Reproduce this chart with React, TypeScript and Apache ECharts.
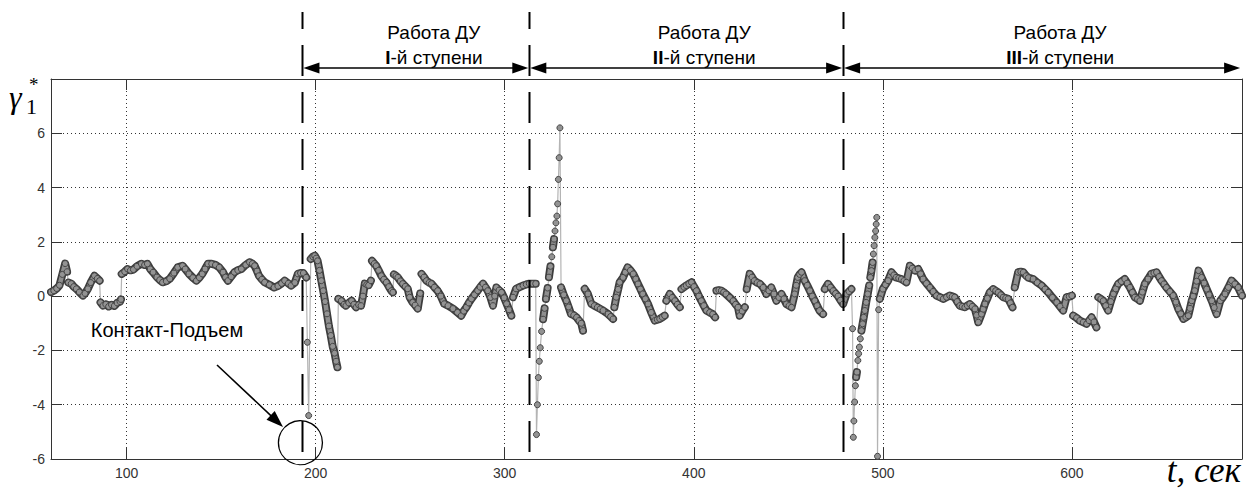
import React, { useEffect, useRef } from "react";
import * as echarts from "echarts";

const xTickValues = [100, 200, 300, 400, 500, 600];
const xMin = 60;
const xMax = 690;
const yMin = -6;
const yMax = 8;
const yStep = 2;

const stageBounds = [193, 313, 479, 689];
const stageNumerals = ["I", "II", "III"];
const stageTitle = "Работа ДУ";
const stageSuffix = "-й ступени";
const contactLabel = "Контакт-Подъем";
const xAxisName = "t, сек";

// phase before engine operation
const phase0: [number, number][] = [
  [60,0.15],[61.5,0.2],[63,0.28],[64.5,0.4],[66,0.8],[67.5,1.2],[68.5,0.9],[69.2,0.5],[70.7,0.46],[72,0.35],
  [73.4,0.27],[75,0.15],[76.9,0.02],[78,0.1],[79.5,0.27],[81,0.5],[83,0.75],[84.5,0.65],[85.7,0.57],[86.2,-0.23],
  [87.5,-0.35],[89,-0.3],[90.5,-0.38],[92,-0.32],[93.5,-0.36],[95,-0.25],[96.5,-0.2],[97,-0.12],[97.4,0.82],[99,0.9],
  [100.5,1.0],[102,0.95],[103.6,0.98],[105.5,1.1],[107.8,1.19],[109.5,1.15],[111,1.19],[112.5,1.0],[114,0.88],[116,0.7],
  [117.5,0.6],[119,0.51],[121,0.55],[122.8,0.64],[125,0.85],[127,1.06],[129.6,1.12],[131,1.0],[133,0.82],[135,0.68],
  [136.9,0.57],[138.5,0.68],[140,0.82],[141.5,1.0],[143,1.19],[145,1.19],[147,1.15],[149,1.06],[151,0.88],[152.3,0.7],
  [153.6,0.57],[155.3,0.72],[157,0.88],[158.8,0.95],[160.7,1.0],[163,1.15],[165,1.25],[166.5,1.2],[167.7,1.12],[169,0.92],
  [170,0.75],[171.5,0.62],[173,0.51],[175.5,0.42],[178,0.32],[180,0.37],[182,0.47],[183.6,0.57],[185.5,0.47],[187,0.39],
  [189,0.5],[190.6,0.82],[192,0.85],[193.5,0.85],[195,0.69],[195.6,-1.7],[196.3,-4.4]
];

// stage I
const phase1: [number, number][] = [
  [197.4,1.37],[198.5,1.45],[199.5,1.49],[200.3,1.4],[201,1.3],[202,0.95],[203,0.57],[204,0.2],[205,-0.2],[206,-0.65],
  [207,-1.1],[208,-1.45],[209,-1.85],[210,-2.1],[210.8,-2.4],[211.5,-2.62],[212,-0.1],[213.6,-0.17],[215,-0.3],[216,-0.35],
  [217.5,-0.25],[219,-0.17],[220.2,-0.3],[221.4,-0.41],[222.7,-0.32],[224,-0.35],[225,0.0],[226,0.46],[227,0.42],[228,0.4],
  [229.2,0.57],[229.8,1.3],[231,1.2],[232,1.12],[233.3,0.95],[234.7,0.75],[236,0.62],[237.4,0.51],[238.7,0.35],[240,0.2],
  [240.8,0.14],[241.4,0.8],[242.5,0.75],[243.5,0.69],[244.8,0.56],[246,0.46],[247.4,0.36],[248.7,0.27],[249.7,-0.04],[251.3,-0.23],
  [252.6,-0.33],[254,-0.46],[255.3,0.1],[256,0.82],[257.3,0.7],[258.6,0.57],[260,0.5],[261.2,0.46],[262.8,0.33],[264.5,0.2],
  [266.2,0.0],[268,-0.28],[270,-0.35],[272.6,-0.46],[275,-0.6],[277,-0.72],[278.3,-0.55],[279.7,-0.41],[281,-0.25],[282.4,-0.1],
  [284,0.05],[285.7,0.2],[287,0.33],[288.5,0.46],[289.8,0.33],[291,0.2],[292.5,-0.05],[293.8,-0.35],[294.7,0.0],[295.6,0.32],
  [297,0.22],[298.3,0.14],[299.7,-0.06],[301,-0.28],[302.3,-0.5],[303.5,-0.72],[304.4,-0.04],[306,0.27],[307.8,0.33],[309.7,0.39],
  [311.4,0.43],[313,0.46],[314.8,0.46],[316.4,0.46]
];

// stage II
const phase2: [number, number][] = [
  [316.8,-5.1],[317.3,-4.0],[317.8,-3.0],[318.3,-2.4],[318.8,-1.9],[319.5,-1.3],[320.3,-0.85],[321.1,-0.45],[321.8,-0.1],[322.7,0.3],
  [323.4,0.7],[324.2,1.1],[324.9,1.45],[325.5,1.8],[326.1,2.1],[326.6,2.4],[327.1,2.7],[327.6,2.95],[328,3.4],[328.4,4.3],
  [328.8,5.1],[329.2,6.2],[329.8,0.32],[331.2,0.05],[332.6,-0.17],[333.8,-0.4],[335,-0.65],[336.5,-0.7],[338,-0.78],[339.3,-0.9],
  [340.5,-1.0],[341.4,-1.27],[342.3,0.27],[344,0.08],[345.8,-0.28],[347.4,-0.35],[349,-0.41],[350.5,-0.47],[352,-0.53],[354.7,-0.66],
  [356,-0.75],[357.3,-0.84],[358,-0.41],[359,-0.04],[360,0.25],[360.8,0.51],[362.6,0.69],[363.8,0.88],[365,1.06],[366.5,0.95],
  [368,0.82],[369.3,0.63],[370.5,0.45],[371.8,0.26],[373,0.08],[374.4,-0.1],[375.8,-0.29],[377.5,-0.6],[379.4,-0.9],[380.7,-0.87],
  [382,-0.84],[383.3,-0.78],[384.6,-0.72],[385.5,-0.17],[387.3,0.08],[388.6,-0.05],[390,-0.17],[391.3,-0.3],[392.6,-0.41],[393.5,0.26],
  [394.8,0.33],[396,0.39],[397.4,0.45],[398.8,0.51],[400.1,0.35],[401.4,0.2],[402.7,0.0],[404,-0.17],[405.3,-0.35],[406.7,-0.53],
  [408.4,-0.6],[410,-0.66],[411.3,-0.78],[412,0.2],[413.3,0.22],[414.6,0.2],[415.8,0.15],[417,0.08],[419,-0.05],[420.8,-0.17],
  [422.1,-0.3],[423.4,-0.41],[424.3,-0.72],[425.6,-0.55],[427,-0.41],[428,0.26],[429.6,0.82],[430.8,0.7],[432,0.57],[433.5,0.5],
  [435,0.45],[436.7,0.32],[438.4,0.08],[439.7,0.2],[441,0.32],[442.4,0.08],[443.7,-0.17],[445,-0.05],[446.4,0.08],[447.7,-0.1],
  [449,-0.29],[450.4,-0.35],[451.7,-0.41],[453.4,0.08],[454.2,0.4],[455,0.69],[456,0.8],[457,0.88],[458.7,0.57],[460,0.4],
  [461.4,0.2],[462.7,0.0],[464,-0.17],[465.2,-0.35],[466.5,-0.53],[468.4,-0.66],[469.3,0.26],[471,0.45],[472.3,0.33],[473.7,0.2],
  [475,0.1],[476.3,0.0],[477.6,-0.15],[479,-0.29],[480.8,0.08],[482.1,0.17],[483.4,0.26],[484,-1.2]
];

// stage III
const phase3: [number, number][] = [
  [484.4,-5.2],[484.7,-4.6],[485.1,-3.9],[485.5,-3.3],[485.9,-2.98],[486.3,-2.8],[486.8,-2.37],[487.2,-2.12],[487.6,-1.88],[488.1,-1.57],
  [488.7,-1.27],[489.3,-1.02],[489.9,-0.78],[490.5,-0.53],[491.2,-0.23],[492,0.08],[492.8,0.39],[493.4,0.69],[494,0.94],[494.6,1.24],
  [495,1.55],[495.4,1.86],[495.8,2.16],[496.2,2.4],[496.5,2.65],[496.8,2.9],[497.2,-5.9],[497.8,-0.5],[498.4,-0.1],[500,0.26],
  [501.4,0.42],[502.8,0.57],[504.6,0.88],[505.8,0.78],[507,0.69],[508.4,0.66],[509.8,0.63],[511.2,0.57],[512.5,0.51],[514.3,1.12],
  [515.6,1.03],[517,0.94],[518.7,1.0],[520,0.82],[521.3,0.63],[523.1,0.47],[524.9,0.32],[526.6,0.17],[528.4,0.02],[530.2,-0.04],
  [532,-0.1],[533.7,-0.04],[535.4,0.02],[536.7,-0.01],[538,-0.04],[539.3,-0.2],[540.7,-0.35],[542,-0.38],[543.4,-0.41],[544.7,-0.35],
  [546,-0.29],[547.3,-0.38],[548.7,-0.47],[549.6,-0.7],[550.5,-0.96],[552.2,-0.66],[553.1,-0.48],[554,-0.29],[555.3,-0.08],[556.6,0.14],
  [558.4,0.26],[559.7,0.2],[561,0.14],[562.4,0.05],[563.7,-0.04],[565,-0.07],[566.3,-0.1],[567.5,-0.25],[568.6,-0.41],[569.8,0.32],
  [571.6,0.88],[573,0.9],[574.3,0.88],[575.8,0.75],[577,0.68],[579.5,0.63],[581.7,0.5],[584,0.39],[585.8,0.26],[587.5,0.14],
  [589.7,-0.05],[592,-0.23],[593.7,-0.38],[595.4,-0.53],[597.2,-0.04],[598.6,-0.02],[600,0.02],[600.7,-0.72],[602.5,-0.8],[604.2,-0.9],
  [606,-0.96],[607.8,-1.02],[609.1,-0.9],[610.4,-0.78],[611.7,-0.95],[613,-1.15],[614,-0.04],[615.3,-0.1],[616.6,-0.17],[617.9,-0.35],
  [619.2,-0.53],[620.6,-0.2],[622,0.08],[623.2,0.27],[624.5,0.45],[626.2,0.54],[628,0.63],[629.3,0.48],[630.7,0.32],[632,0.14],
  [633.3,-0.04],[634.7,-0.1],[636,-0.17],[637.3,0.15],[638.6,0.45],[640.3,0.63],[642,0.82],[643.4,0.85],[644.8,0.88],[646.1,0.72],
  [647.4,0.57],[648.7,0.45],[650,0.32],[651.8,0.17],[653.6,0.02],[655,-0.22],[656.3,-0.47],[657.6,-0.65],[659,-0.84],[660.3,-0.78],
  [661.6,-0.72],[662.5,-0.45],[663.4,-0.17],[664.2,0.0],[665,0.2],[666,0.55],[667,0.94],[668.6,0.69],[670,0.48],[671.3,0.26],
  [672.6,0.05],[674,-0.17],[675.3,-0.42],[676.6,-0.66],[678.5,-0.17],[679.8,-0.05],[681,0.08],[682.8,0.32],[684.5,0.57],[686.2,0.45],
  [688,0.32],[690,0.02]
];

const GRID = { left: 51, right: 11, top: 79, bottom: 33 };
const JUMP_SLOPE = 0.5; // per second: steeper steps are drawn as thin connectors only

export default function App() {
  const ref = useRef<HTMLDivElement>(null);

  useEffect(() => {
    if (!ref.current) return;
    const chart = echarts.init(ref.current, undefined, { renderer: "svg" });
    const data = [...phase0, ...phase1, ...phase2, ...phase3];

    // ribbon data: the same points, broken at steep jumps
    const ribbon: any[] = [];
    for (let i = 0; i < data.length; i++) {
      ribbon.push(data[i]);
      if (i < data.length - 1) {
        const dt = data[i + 1][0] - data[i][0];
        const dv = Math.abs(data[i + 1][1] - data[i][1]);
        if (dv / dt >= JUMP_SLOPE) ribbon.push([(data[i][0] + data[i + 1][0]) / 2, "-"]);
      }
    }

    const labelFont = { fontFamily: "Liberation Sans", fontSize: 14, color: "#333" };
    const gridDash = { color: "#333", width: 1, type: [1, 3] as any };

    chart.setOption({
      animation: false,
      backgroundColor: "#fff",
      grid: { ...GRID, containLabel: false },
      xAxis: [
        {
          type: "value", min: xMin, max: xMax,
          axisLine: { show: true, onZero: false, lineStyle: { color: "#333", width: 1 } },
          axisTick: { show: true, inside: true, length: 11, customValues: xTickValues, lineStyle: { color: "#333" } },
          axisLabel: { ...labelFont, margin: 7, customValues: xTickValues },
          splitLine: { show: true, lineStyle: gridDash },
        },
        {
          type: "value", min: xMin, max: xMax, position: "top",
          axisLine: { show: true, onZero: false, lineStyle: { color: "#333", width: 1 } },
          axisTick: { show: true, inside: true, length: 11, customValues: xTickValues, lineStyle: { color: "#333" } },
          axisLabel: { show: false },
          splitLine: { show: false },
        },
      ],
      yAxis: [
        {
          type: "value", min: yMin, max: yMax, interval: yStep,
          axisLine: { show: true, onZero: false, lineStyle: { color: "#333", width: 1 } },
          axisTick: { show: true, inside: true, length: 11, lineStyle: { color: "#333" } },
          axisLabel: { ...labelFont, margin: 6, formatter: (v: number) => (v === yMax ? "" : String(v)) },
          splitLine: { show: true, lineStyle: gridDash },
        },
        {
          type: "value", min: yMin, max: yMax, interval: yStep, position: "right",
          axisLine: { show: true, onZero: false, lineStyle: { color: "#333", width: 1 } },
          axisTick: { show: true, inside: true, length: 11, lineStyle: { color: "#333" } },
          axisLabel: { show: false },
          splitLine: { show: false },
        },
      ],
      series: [
        {
          type: "line", data, showSymbol: false, silent: true,
          lineStyle: { color: "#b4b4b4", width: 1.2 },
          z: 2,
        },
        {
          type: "line", data: ribbon, showSymbol: false, silent: true, connectNulls: false,
          lineStyle: { color: "#3c3c3c", width: 8, cap: "round", join: "round" },
          z: 3,
        },
        {
          type: "line", data: ribbon, showSymbol: false, silent: true, connectNulls: false,
          lineStyle: { color: "#8e8e8e", width: 4.5, cap: "round", join: "round" },
          z: 4,
        },
        {
          type: "line", data, showSymbol: true, symbol: "circle", symbolSize: 6, silent: true,
          lineStyle: { width: 0, opacity: 0 },
          itemStyle: { color: "#939393", borderColor: "#444", borderWidth: 1 },
          z: 5,
        },
      ],
    });

    const X = (t: number) => chart.convertToPixel({ xAxisIndex: 0 }, t) as number;
    const Y = (v: number) => chart.convertToPixel({ yAxisIndex: 0 }, v) as number;

    const elements: any[] = [];
    const arrowY = 68;
    const headL = 16;
    const headW = 5.5;

    // dashed boundaries
    stageBounds.slice(0, 3).forEach((t) => {
      const x = Math.round(X(t)) + 0.5;
      elements.push({
        type: "line",
        shape: { x1: x, y1: 12, x2: x, y2: Y(yMin) + 1 },
        style: { stroke: "#000", lineWidth: 2, lineDash: [31, 16], lineDashOffset: 14 },
        z: 10,
      });
    });

    // stage arrows and titles
    for (let i = 0; i < 3; i++) {
      const xa = X(stageBounds[i]) + 1;
      const xb = X(stageBounds[i + 1]) - (i === 2 ? 0 : 1);
      elements.push({
        type: "line",
        shape: { x1: xa + 6, y1: arrowY, x2: xb - 6, y2: arrowY },
        style: { stroke: "#000", lineWidth: 1.6 },
        z: 10,
      });
      elements.push({
        type: "polygon",
        shape: { points: [[xa, arrowY], [xa + headL, arrowY - headW], [xa + headL, arrowY + headW]] },
        style: { fill: "#000" },
        z: 10,
      });
      elements.push({
        type: "polygon",
        shape: { points: [[xb, arrowY], [xb - headL, arrowY - headW], [xb - headL, arrowY + headW]] },
        style: { fill: "#000" },
        z: 10,
      });
      const cx = (xa + xb) / 2 + 18;
      elements.push({
        type: "text",
        x: cx, y: 32,
        style: {
          text: stageTitle, align: "center", verticalAlign: "middle",
          fontFamily: "Liberation Sans", fontSize: 19, fill: "#000",
        },
        z: 10,
      });
      elements.push({
        type: "text",
        x: cx, y: 57,
        style: {
          text: `{b|${stageNumerals[i]}}{n|${stageSuffix}}`,
          align: "center", verticalAlign: "middle",
          rich: {
            b: { fontFamily: "Liberation Sans", fontSize: 19, fontWeight: "bold", fill: "#000" },
            n: { fontFamily: "Liberation Sans", fontSize: 19, fill: "#000" },
          },
        },
        z: 10,
      });
    }

    // contact annotation
    elements.push({
      type: "text",
      x: 167, y: 330,
      style: {
        text: contactLabel, align: "center", verticalAlign: "middle",
        fontFamily: "Liberation Sans", fontSize: 20, fill: "#000",
      },
      z: 10,
    });
    const ax1 = 217, ay1 = 365, ax2 = 283, ay2 = 427;
    const dx = ax2 - ax1, dy = ay2 - ay1;
    const len = Math.sqrt(dx * dx + dy * dy);
    const ux = dx / len, uy = dy / len;
    const bx = ax2 - ux * 17, by = ay2 - uy * 17;
    elements.push({
      type: "line",
      shape: { x1: ax1, y1: ay1, x2: bx + ux * 4, y2: by + uy * 4 },
      style: { stroke: "#000", lineWidth: 1.6 },
      z: 10,
    });
    elements.push({
      type: "polygon",
      shape: { points: [[ax2, ay2], [bx - uy * 6, by + ux * 6], [bx + uy * 6, by - ux * 6]] },
      style: { fill: "#000" },
      z: 10,
    });
    elements.push({
      type: "circle",
      shape: { cx: X(stageBounds[0]) - 2, cy: Y(-5.4), r: 22 },
      style: { fill: "none", stroke: "#000", lineWidth: 1.3 },
      z: 10,
    });

    // y-axis symbol γ1*
    elements.push({
      type: "text", x: 9, y: 113,
      style: { text: "γ", fontFamily: "Liberation Serif", fontStyle: "italic", fontSize: 32, fill: "#000", align: "left", verticalAlign: "bottom" },
      z: 10,
    });
    elements.push({
      type: "text", x: 29, y: 75,
      style: { text: "*", fontFamily: "Liberation Serif", fontSize: 19, fill: "#000", align: "left", verticalAlign: "top" },
      z: 10,
    });
    elements.push({
      type: "text", x: 26, y: 95,
      style: { text: "1", fontFamily: "Liberation Serif", fontSize: 22, fill: "#000", align: "left", verticalAlign: "top" },
      z: 10,
    });

    // x-axis name
    elements.push({
      type: "text", x: 1241, y: 488,
      style: { text: xAxisName, fontFamily: "Liberation Serif", fontStyle: "italic", fontSize: 35, fill: "#000", align: "right", verticalAlign: "bottom" },
      z: 10,
    });

    chart.setOption({ graphic: { elements } });

    return () => chart.dispose();
  }, []);

  return (
    <div
      ref={ref}
      style={{ position: "fixed", left: 0, top: 0, width: 1253, height: 492, background: "#fff" }}
    />
  );
}
